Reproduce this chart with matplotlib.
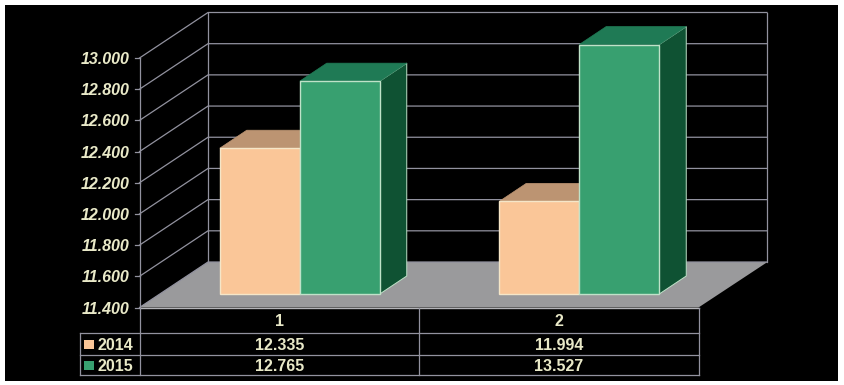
import matplotlib
matplotlib.use("Agg")
import matplotlib.pyplot as plt
from matplotlib.patches import Polygon, Rectangle

categorias = ["1", "2"]
series = ["2014", "2015"]
valores_2014 = [12335, 11994]
valores_2015 = [12765, 13527]
ticks = [11400, 11600, 11800, 12000, 12200, 12400, 12600, 12800, 13000]
etiquetas = ["11.400", "11.600", "11.800", "12.000", "12.200", "12.400", "12.600", "12.800", "13.000"]
textos_2014 = ["12.335", "11.994"]
textos_2015 = ["12.765", "13.527"]

# geometria de la caja en pixeles
X0, X1 = 139.5, 698.5
Y_MIN, Y_MAX = 307.5, 58.0
DX, DY = 68.5, 45.5
BASE_BARRA = 294.0
DESPL_BARRA = 20.5
ANCHO_BARRA = 80
PROF_X, PROF_Y = 27, 18

GRID = "#92929f"
TEXTO = "#e9e9c8"
FUENTE = "Liberation Sans"
TAM = 11.5


def y_frente(v):
    return Y_MIN + (v - ticks[0]) * (Y_MAX - Y_MIN) / (ticks[-1] - ticks[0])


def y_barra(v):
    # las barras se cortan en el maximo del eje
    v = min(v, ticks[-1])
    return BASE_BARRA + (v - ticks[0]) * (Y_MAX - Y_MIN) / (ticks[-1] - ticks[0])


def barra(ax, x, v, frente, arriba, lado, borde, z):
    t = y_barra(v)
    ax.add_patch(Polygon([(x + ANCHO_BARRA, t), (x + ANCHO_BARRA + PROF_X, t - PROF_Y),
                          (x + ANCHO_BARRA + PROF_X, BASE_BARRA - PROF_Y), (x + ANCHO_BARRA, BASE_BARRA)],
                         fc=lado, ec=borde, lw=0.7, zorder=z))
    ax.add_patch(Polygon([(x, t), (x + PROF_X, t - PROF_Y), (x + ANCHO_BARRA + PROF_X, t - PROF_Y),
                          (x + ANCHO_BARRA, t)], fc=arriba, ec=arriba, lw=0.5, zorder=z))
    ax.add_patch(Rectangle((x, t), ANCHO_BARRA, BASE_BARRA - t, fc=frente, ec=borde, lw=1.0, zorder=z + 0.1))


fig = plt.figure(figsize=(8.44, 3.85), dpi=100, facecolor="white")
ax = fig.add_axes([0, 0, 1, 1])
ax.set_xlim(0, 844)
ax.set_ylim(385, 0)
ax.axis("off")

ax.add_patch(Rectangle((4.5, 4.5), 833.5, 376, fc="black", ec="none", zorder=0))

# piso
ax.add_patch(Polygon([(X0, Y_MIN), (X0 + DX, Y_MIN - DY), (X1 + DX + 0.5, Y_MIN - DY), (X1, Y_MIN)],
                     fc="#9a9a9c", ec="none", zorder=1))

# rejilla y eje
for t, lab in zip(ticks, etiquetas):
    y = y_frente(t)
    ax.plot([X0, X0 + DX, X1 + DX], [y, y - DY, y - DY], color=GRID, lw=0.9, zorder=2)
    ax.plot([X0 - 5, X0], [y, y], color=GRID, lw=0.9, zorder=2)
    ax.text(X0 - 10, y + 1.5, lab, color=TEXTO, ha="right", va="center", fontsize=TAM,
            fontweight="bold", fontstyle="italic", family=FUENTE, zorder=5)
ax.plot([X0, X0], [y_frente(ticks[0]), y_frente(ticks[-1])], color=GRID, lw=0.9, zorder=2)
ax.plot([X0 + DX, X0 + DX], [Y_MIN - DY, Y_MAX - DY], color=GRID, lw=0.9, zorder=2)
ax.plot([X1 + DX, X1 + DX], [Y_MIN - DY, Y_MAX - DY], color=GRID, lw=0.9, zorder=2)

# barras
ancho_cat = (X1 - X0) / len(categorias)
for i in range(len(categorias)):
    centro = X0 + ancho_cat * (i + 0.5) + DESPL_BARRA
    barra(ax, centro - ANCHO_BARRA, valores_2014[i], "#fac698", "#bc9472", "#8a6a50", "#f5e6c8", 3)
    barra(ax, centro, valores_2015[i], "#38a070", "#1f7a55", "#0f5233", "#bfe2c8", 3.5)

# tabla de datos
Y_FILAS = [Y_MIN, 333, 354.5, 375]
X_LEY = 79.5
ax.plot([X0, X1], [Y_MIN, Y_MIN], color="#b4b4b8", lw=1.0, zorder=4)
ax.plot([X0, X0], [Y_MIN, Y_FILAS[-1]], color=GRID, lw=0.9, zorder=4)
ax.plot([X1, X1], [Y_MIN, Y_FILAS[-1]], color=GRID, lw=0.9, zorder=4)
ax.plot([(X0 + X1) / 2] * 2, [Y_MIN, Y_FILAS[-1]], color=GRID, lw=0.9, zorder=4)
ax.plot([X_LEY, X_LEY], [Y_FILAS[1], Y_FILAS[-1]], color=GRID, lw=0.9, zorder=4)
for y in Y_FILAS[1:]:
    ax.plot([X_LEY, X1], [y, y], color=GRID, lw=0.9, zorder=4)

for i, cat in enumerate(categorias):
    cx = X0 + ancho_cat * (i + 0.5)
    ax.text(cx, (Y_FILAS[0] + Y_FILAS[1]) / 2 + 1, cat, color=TEXTO, ha="center", va="center",
            fontsize=TAM, fontweight="bold", family=FUENTE)
    ax.text(cx, (Y_FILAS[1] + Y_FILAS[2]) / 2 + 1.5, textos_2014[i], color=TEXTO, ha="center", va="center",
            fontsize=TAM, fontweight="bold", family=FUENTE)
    ax.text(cx, (Y_FILAS[2] + Y_FILAS[3]) / 2 + 1.5, textos_2015[i], color=TEXTO, ha="center", va="center",
            fontsize=TAM, fontweight="bold", family=FUENTE)

for j, (nombre, color) in enumerate(zip(series, ["#fac698", "#38a070"])):
    yc = (Y_FILAS[j + 1] + Y_FILAS[j + 2]) / 2
    ax.add_patch(Rectangle((84, yc - 4), 9.5, 9.5, fc=color, ec="none", zorder=5))
    ax.text(98, yc + 1.5, nombre, color=TEXTO, ha="left", va="center", fontsize=TAM,
            fontweight="bold", family=FUENTE, zorder=5)

fig.savefig("out.png", dpi=100, facecolor="white")
